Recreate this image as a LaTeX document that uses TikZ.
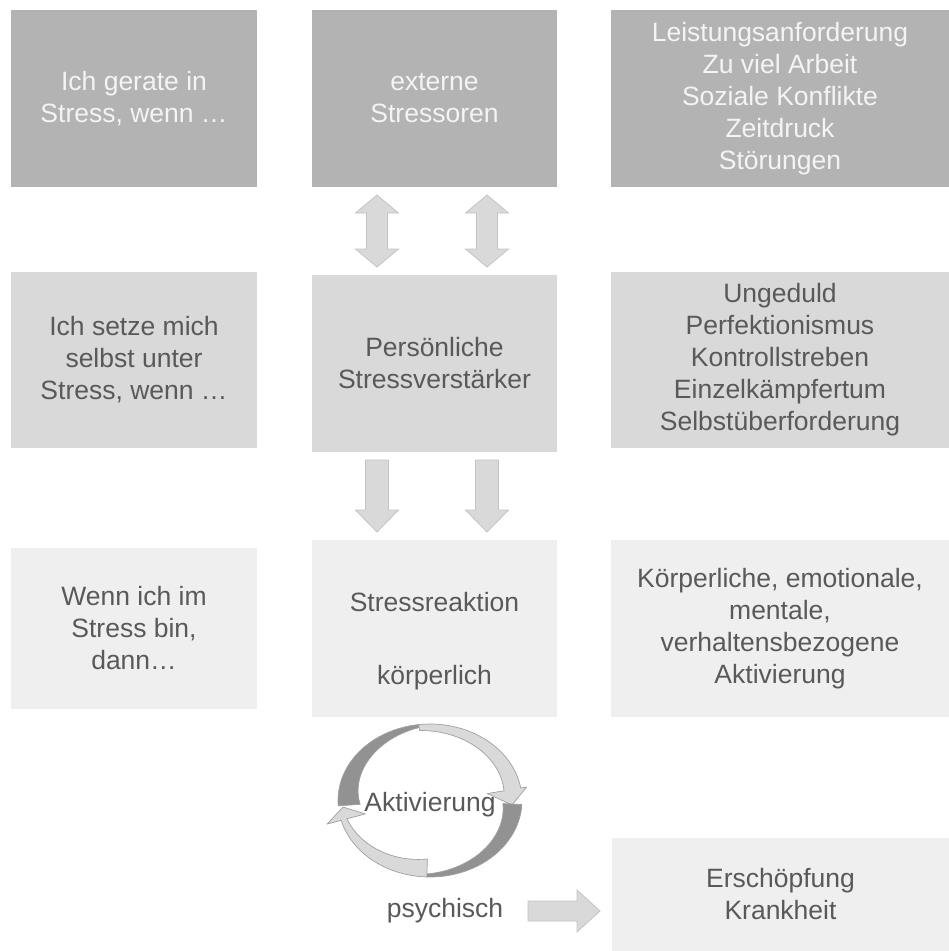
\documentclass[tikz,border=0pt]{standalone}
\usepackage{fontspec}
\setmainfont{Liberation Sans}
\usetikzlibrary{calc}

\definecolor{fillA}{HTML}{B3B3B3}
\definecolor{fillB}{HTML}{D9D9D9}
\definecolor{fillC}{HTML}{EFEFEF}
\definecolor{txtDark}{HTML}{595959}
\definecolor{txtLight}{HTML}{F4F4F4}
\definecolor{arrowLine}{HTML}{C4C4C4}
\definecolor{ringDark}{HTML}{929292}
\definecolor{ringLine}{HTML}{A0A0A0}

\tikzset{
  txt/.style={font=\fontsize{26.5}{32}\selectfont, align=center, inner sep=0pt},
  boxA/.style={txt, fill=fillA, text=txtLight},
  boxB/.style={txt, fill=fillB, text=txtDark},
  boxC/.style={txt, fill=fillC, text=txtDark},
  blockarrow/.style={fill=fillB, draw=arrowLine, line width=0.8pt, line join=miter},
  ringpart/.style={draw=ringLine, line width=0.7pt, line join=round},
  updown/.pic={
    \draw[blockarrow] (0,-36) -- (21.5,-18) -- (10.5,-18) -- (10.5,18) -- (21.5,18)
      -- (0,36) -- (-21.5,18) -- (-10.5,18) -- (-10.5,-18) -- (-21.5,-18) -- cycle;
  },
  downarrow/.pic={
    \draw[blockarrow] (-11.5,-36) -- (11.5,-36) -- (11.5,14) -- (21.5,14) -- (0,36)
      -- (-21.5,14) -- (-11.5,14) -- cycle;
  },
  rightarrow/.pic={
    \draw[blockarrow] (-36,-10) -- (13,-10) -- (13,-21) -- (36,0) -- (13,21)
      -- (13,10) -- (-36,10) -- cycle;
  },
}

\begin{document}
\begin{tikzpicture}[x=1pt,y=-1pt]
\useasboundingbox[fill=white] (0,0) rectangle (949,951);

% row 1: external stressors
\node[boxA, minimum width=246, minimum height=177] (b11) at (134,98.5)
  {Ich gerate in\\Stress, wenn …};
\node[boxA, minimum width=245, minimum height=177] (b12) at (434.5,98.5)
  {externe\\Stressoren};
\node[boxA, minimum width=338, minimum height=177] (b13) at (780,98.5)
  {Leistungsanforderung\\Zu viel Arbeit\\Soziale Konflikte\\Zeitdruck\\Störungen};

% row 2: personal amplifiers
\node[boxB, minimum width=246, minimum height=176] (b21) at (134,360)
  {Ich setze mich\\selbst unter\\Stress, wenn …};
\node[boxB, minimum width=245, minimum height=177] (b22) at (434.5,363.5)
  {Persönliche\\Stressverstärker};
\node[boxB, minimum width=338, minimum height=176] (b23) at (780,360)
  {Ungeduld\\Perfektionismus\\Kontrollstreben\\Einzelkämpfertum\\Selbstüberforderung};

% row 3: stress reaction
\node[boxC, minimum width=246, minimum height=161] (b31) at (134,628.5)
  {Wenn ich im\\Stress bin,\\dann…};
\node[boxC, minimum width=245, minimum height=177] (b32) at (434.5,628.5) {};
\node[txt, text=txtDark] (b32a) at (434.5,602) {Stressreaktion};
\node[txt, text=txtDark] (b32b) at (434.5,678) {körperlich};
\node[boxC, minimum width=338, minimum height=177] (b33) at (780,628.5)
  {Körperliche, emotionale,\\mentale,\\verhaltensbezogene\\Aktivierung};

% consequences
\node[boxC, minimum width=337, minimum height=113] (b4) at (780.5,894.5)
  {Erschöpfung\\Krankheit};

% block arrows between the rows
\pic at ($(b12.south)!.5!(b22.north)+(-57.5,0)$) {updown};
\pic at ($(b12.south)!.5!(b22.north)+(52.5,0)$) {updown};
\pic at ($(b22.south)!.5!(b32.north)+(-57.5,0)$) {downarrow};
\pic at ($(b22.south)!.5!(b32.north)+(52.5,0)$) {downarrow};
\pic at (564,911) {rightarrow};

% activation cycle, centre (430,800.5), outer radii 92 x 76.5
% upper arrow: inner face (dark) on the left, outer face (light) to the head
\filldraw[ringpart, fill=ringDark]
  plot[domain=184:97, samples=30] ({430+92*cos(\x)},{800.5-76.5*sin(\x)})
  -- plot[domain=97:184, samples=30]
     ({430+(92-3-19*(\x-97)/87)*cos(\x)},{800.5-(76.5-3-19*(\x-97)/87)*sin(\x)})
  -- cycle;
\filldraw[ringpart, fill=fillB]
  plot[domain=97:9.4, samples=30] ({430+92*cos(\x)},{800.5-76.5*sin(\x)})
  -- ({430+98*cos(9.4)},{800.5-82.5*sin(9.4)})
  -- (512,805)
  -- ({430+58*cos(9.4)},{800.5-42.5*sin(9.4)})
  -- plot[domain=9.4:97, samples=30]
     ({430+(92-17+11*(\x-9.4)/87.6)*cos(\x)},{800.5-(76.5-17+11*(\x-9.4)/87.6)*sin(\x)})
  -- cycle;

% lower arrow: inner face (dark) on the right, outer face (light) to the head
\filldraw[ringpart, fill=ringDark]
  plot[domain=-3:-92, samples=30] ({430+92*cos(\x)},{800.5-76.5*sin(\x)})
  -- plot[domain=-92:-3, samples=30]
     ({430+(92-3-16*(\x+92)/89)*cos(\x)},{800.5-(76.5-3-16*(\x+92)/89)*sin(\x)})
  -- cycle;
\filldraw[ringpart, fill=fillB]
  plot[domain=-92:-165, samples=30] ({430+92*cos(\x)},{800.5-76.5*sin(\x)})
  -- ({430+106.5*cos(-165)},{800.5-91*sin(-165)})
  -- (343,807)
  -- ({430+67*cos(-165)},{800.5-52*sin(-165)})
  -- plot[domain=-165:-92, samples=30]
     ({430+(92-18+12*(-92-\x)/73)*cos(\x)},{800.5-(76.5-18+12*(-92-\x)/73)*sin(\x)})
  -- cycle;

\node[txt, text=txtDark, anchor=base] (akt) at (430,811.5) {Aktivierung};
\node[txt, text=txtDark, anchor=base] (psy) at (445,917) {psychisch};
\end{tikzpicture}
\end{document}
